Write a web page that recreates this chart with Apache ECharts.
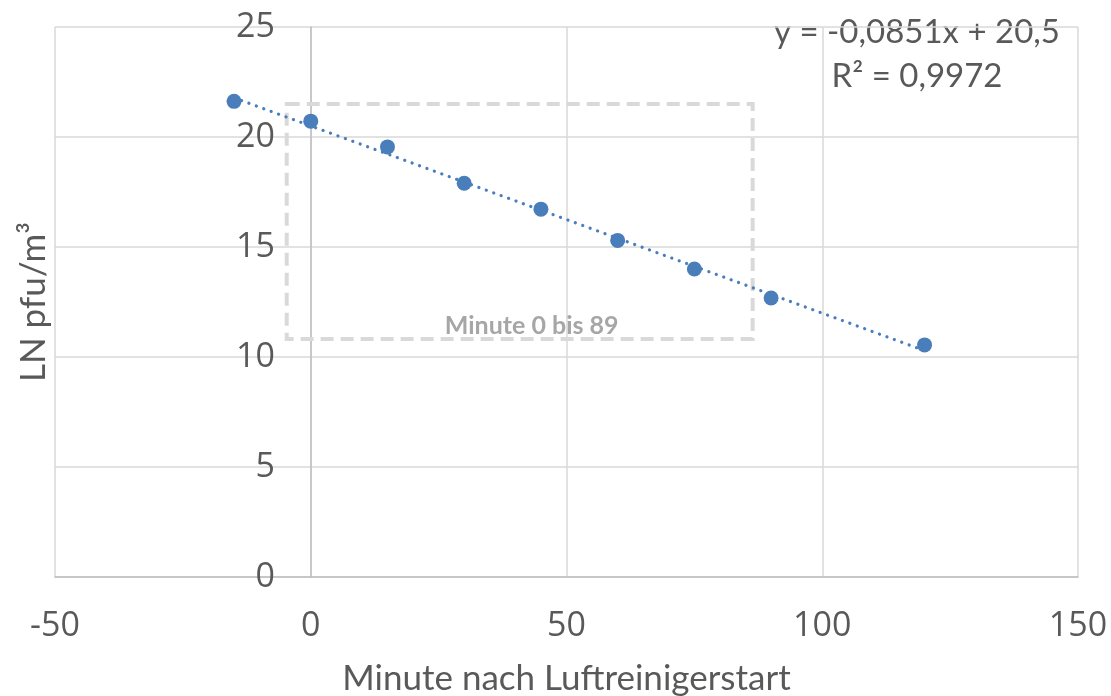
<!DOCTYPE html>
<html>
<head>
<meta charset="utf-8">
<script src="https://cdn.jsdelivr.net/npm/echarts@6/dist/echarts.min.js"></script>
<style>
html,body{margin:0;padding:0;background:#fff;}
#chart{width:1111px;height:696px;}
</style>
</head>
<body>
<div id="chart"></div>
<script>
// ---- data ----
var minutes = [-15, 0, 15, 30, 45, 60, 75, 90, 120];
var lnValues = [21.62, 20.72, 19.55, 17.9, 16.72, 15.3, 14.0, 12.68, 10.55];
var trendX = [-15, 120];
var trendY = [21.78, 10.29];
var xTicks = [-50, 0, 50, 100, 150];
var yTicks = [0, 5, 10, 15, 20, 25];
var boxLabel = 'Minute 0 bis 89';
var equationText = 'y = -0,0851x + 20,5';
var r2Text = 'R² = 0,9972';
var xTitle = 'Minute nach Luftreinigerstart';
var yTitle = 'LN pfu/m³';

var pts = minutes.map(function (m, i) { return [m, lnValues[i]]; });
var trend = trendX.map(function (x, i) { return [x, trendY[i]]; });

var FONT = 'Lato';
var TICKFONT = 'Open Sans';
var TXT = '#595959';
var BLUE = '#4a7ebb';

var chart = echarts.init(document.getElementById('chart'));
chart.setOption({
  animation: false,
  backgroundColor: '#fff',
  textStyle: { fontFamily: FONT },
  grid: { left: 55, right: 33, top: 27, bottom: 119, containLabel: false, outerBoundsMode: 'none' },
  xAxis: {
    type: 'value',
    min: xTicks[0], max: xTicks[xTicks.length - 1], interval: 50,
    name: xTitle, nameLocation: 'middle', nameGap: 84,
    nameTextStyle: { fontFamily: FONT, fontSize: 35, color: TXT },
    axisLine: { show: true, onZero: false, lineStyle: { color: '#bfbfbf', width: 1.5 } },
    axisTick: { show: false },
    axisLabel: { fontFamily: TICKFONT, fontSize: 34, color: TXT, margin: 32 },
    splitLine: { show: true, lineStyle: { color: '#d9d9d9', width: 1.5 } }
  },
  yAxis: {
    type: 'value',
    min: yTicks[0], max: yTicks[yTicks.length - 1], interval: 5,
    name: yTitle, nameLocation: 'middle', nameGap: 4,
    nameTextStyle: { fontFamily: FONT, fontSize: 35, color: TXT },
    axisLine: { show: true, onZero: true, lineStyle: { color: '#bfbfbf', width: 1.5 } },
    axisTick: { show: false },
    axisLabel: { fontFamily: TICKFONT, fontSize: 34, color: TXT, margin: -220 },
    splitLine: { show: true, lineStyle: { color: '#d9d9d9', width: 1.5 } }
  },
  series: [
    {
      type: 'line',
      data: trend,
      showSymbol: false,
      symbol: 'none',
      lineStyle: { color: BLUE, width: 3.2, type: [0.1, 7.8], cap: 'round' },
      z: 2,
      silent: true
    },
    {
      type: 'scatter',
      data: pts,
      symbolSize: 15,
      itemStyle: { color: BLUE, opacity: 1 },
      z: 3,
      markArea: {
        silent: true,
        itemStyle: {
          color: 'rgba(0,0,0,0)',
          borderColor: '#d9d9d9',
          borderWidth: 4,
          borderType: [13, 7]
        },
        label: {
          show: true,
          position: 'insideBottom',
          distance: 3,
          offset: [12, 0],
          fontFamily: FONT,
          fontWeight: 'bold',
          fontSize: 25,
          color: '#a6a6a6'
        },
        data: [[
          { name: boxLabel, coord: [-4.7, 21.5] },
          { coord: [86.4, 10.82] }
        ]]
      }
    }
  ],
  graphic: [
    {
      type: 'text', x: 917, y: 32,
      style: { text: equationText, fontFamily: FONT, fontSize: 33, fill: TXT, textAlign: 'center', textVerticalAlign: 'middle' }
    },
    {
      type: 'text', x: 917, y: 76,
      style: { text: r2Text, fontFamily: FONT, fontSize: 33, fill: TXT, textAlign: 'center', textVerticalAlign: 'middle' }
    }
  ]
});
</script>
</body>
</html>
